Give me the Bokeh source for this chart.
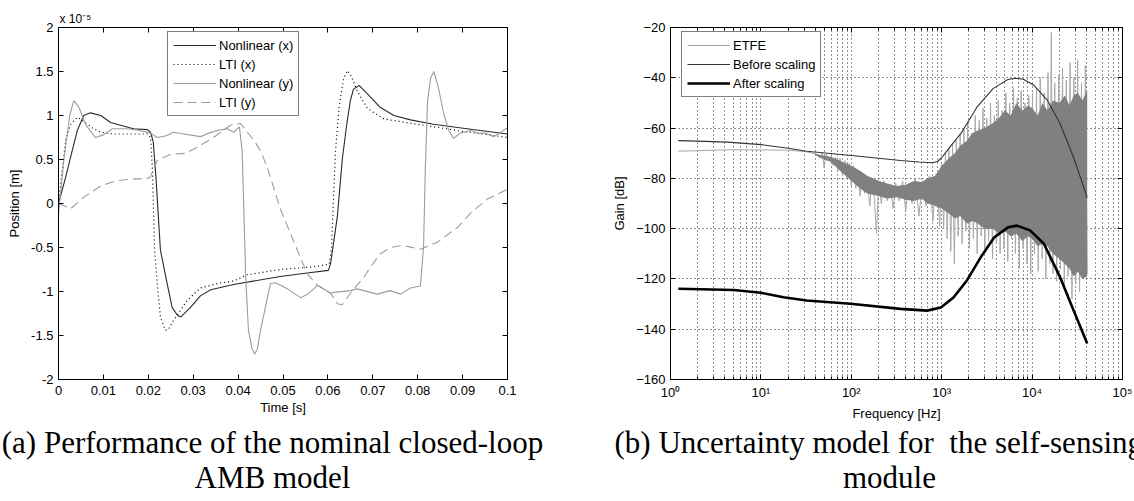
from bokeh.plotting import figure
from bokeh.models import (FixedTicker, LinearAxis, LogAxis, Legend, LegendItem,
                          CustomJSTickFormatter)
from bokeh.layouts import row, column
from bokeh.core.properties import value
from bokeh.embed import file_html
from bokeh.resources import INLINE

SANS = "Liberation Sans"
SERIF = "Liberation Serif"

# ---------------- (a) time responses, position in units of 1e-5 m ----------------
nonlin_x_t = [0, 0.0016, 0.0027, 0.0042, 0.0056, 0.0071, 0.0094, 0.0116, 0.0138, 0.0167,
              0.0198, 0.0205, 0.0211, 0.0217, 0.0227, 0.0242, 0.0253, 0.0265, 0.0272, 0.0294,
              0.0316, 0.0339, 0.039, 0.0494, 0.0554, 0.0601, 0.0606, 0.0614, 0.0621, 0.0632,
              0.0642, 0.065, 0.0657, 0.067, 0.0695, 0.0717, 0.0747, 0.0784, 0.0835, 0.091, 0.1]
nonlin_x_v = [0.0, 0.3, 0.53, 0.83, 1.0, 1.03, 1.0, 0.92, 0.89, 0.85,
              0.84, 0.81, 0.7, 0.3, -0.53, -0.91, -1.18, -1.27, -1.29, -1.18,
              -1.05, -0.98, -0.92, -0.83, -0.79, -0.76, -0.68, -0.4, -0.15, 0.5,
              0.9, 1.17, 1.3, 1.34, 1.21, 1.09, 1.0, 0.95, 0.9, 0.85, 0.79]

lti_x_t = [0, 0.0009, 0.0016, 0.0027, 0.0042, 0.006, 0.0075, 0.0094, 0.012, 0.016,
           0.02, 0.0205, 0.0209, 0.0214, 0.022, 0.0227, 0.0238, 0.0245, 0.0256, 0.0287,
           0.0316, 0.0354, 0.039, 0.042, 0.0494, 0.0568, 0.0603, 0.0608, 0.0612, 0.0617,
           0.0625, 0.0635, 0.0643, 0.0652, 0.0665, 0.0688, 0.0725, 0.08, 0.09, 0.1]
lti_x_v = [0.0, 0.41, 0.72, 0.9, 0.98, 0.92, 0.86, 0.81, 0.79, 0.79,
           0.79, 0.75, 0.41, -0.53, -0.91, -1.29, -1.44, -1.43, -1.33, -1.1,
           -0.96, -0.91, -0.88, -0.81, -0.75, -0.72, -0.69, -0.5, 0.0, 0.6,
           1.1, 1.42, 1.51, 1.45, 1.28, 1.08, 0.96, 0.9, 0.82, 0.75]

nonlin_y_t = [0, 0.0012, 0.0025, 0.0034, 0.0045, 0.006, 0.0082, 0.010, 0.012, 0.0154,
              0.018, 0.0205, 0.022, 0.024, 0.0256, 0.028, 0.0316, 0.0335, 0.0354, 0.0376,
              0.039, 0.0403, 0.0409, 0.0417, 0.0423, 0.0431, 0.0437, 0.0443, 0.045, 0.0462,
              0.0472, 0.0483, 0.051, 0.0539, 0.0555, 0.0577, 0.0606, 0.0614, 0.065, 0.0665,
              0.071, 0.0738, 0.0762, 0.0784, 0.0802, 0.0806, 0.0813, 0.0817, 0.0822, 0.0829,
              0.0836, 0.0846, 0.0858, 0.0869, 0.088, 0.0895, 0.0918, 0.0933, 0.095, 0.097,
              0.0985, 0.1]
nonlin_y_v = [-0.12, 0.5, 1.0, 1.17, 1.1, 0.9, 0.75, 0.78, 0.85, 0.85,
              0.83, 0.8, 0.75, 0.77, 0.81, 0.79, 0.76, 0.8, 0.83, 0.85,
              0.81, 0.87, 0.6, -0.84, -1.44, -1.65, -1.71, -1.65, -1.44, -1.15,
              -0.91, -0.9, -0.97, -1.07, -1.03, -0.93, -1.02, -1.01, -0.99, -0.97,
              -1.03, -0.99, -1.03, -0.96, -0.94, -0.94, -0.5, 0.41, 1.17, 1.43,
              1.5, 1.32, 1.02, 0.83, 0.74, 0.8, 0.83, 0.8, 0.8, 0.76,
              0.81, 0.86]

lti_y_t = [0, 0.0027, 0.0056, 0.0094, 0.013, 0.0168, 0.0195, 0.0205, 0.021, 0.022,
           0.025, 0.0283, 0.0316, 0.0345, 0.0383, 0.0405, 0.0435, 0.045, 0.0465, 0.0494,
           0.0532, 0.0554, 0.0577, 0.0606, 0.0621, 0.0632, 0.065, 0.068, 0.0695, 0.0717,
           0.074, 0.0762, 0.078, 0.0806, 0.0844, 0.0889, 0.0918, 0.0955, 0.1]
lti_y_v = [0.0, -0.06, 0.07, 0.2, 0.26, 0.28, 0.28, 0.3, 0.37, 0.49,
           0.56, 0.57, 0.66, 0.75, 0.89, 0.91, 0.72, 0.6, 0.41, -0.06,
           -0.53, -0.8, -0.93, -1.02, -1.14, -1.15, -1.02, -0.84, -0.72, -0.57,
           -0.5, -0.48, -0.49, -0.52, -0.44, -0.27, -0.11, 0.05, 0.16]

time_ticks = [0, 0.01, 0.02, 0.03, 0.04, 0.05, 0.06, 0.07, 0.08, 0.09, 0.1]
time_labels = ["0", "0.01", "0.02", "0.03", "0.04", "0.05", "0.06", "0.07", "0.08", "0.09", "0.1"]
pos_ticks = [-2, -1.5, -1, -0.5, 0, 0.5, 1, 1.5, 2]
pos_labels = ["-2", "-1.5", "-1", "-0.5", "0", "0.5", "1", "1.5", "2"]

# ---------------- (b) frequency responses ----------------
before_f = [1.22, 2, 4.3, 10, 20, 32, 100, 200, 350, 560, 780, 900, 1000, 1150, 1300, 1620,
            2000, 2450, 3700, 5400, 6600, 8000, 10500, 14800, 20400, 28800, 40700]
before_g = [-65, -65.2, -65.6, -66.6, -68.0, -69.2, -70.9, -72.0, -72.9, -73.5, -73.8, -73.3,
            -71.8, -69.0, -66.5, -62.3, -57.0, -51.7, -44.3, -40.7, -40.2, -40.6, -43, -49,
            -58.2, -71.7, -87.6]

after_f = [1.22, 5, 10, 17.8, 32, 98, 350, 690, 980, 1350, 1900, 2700, 3800, 5400, 6800,
           9500, 13500, 20400, 28800, 40700]
after_g = [-123.9, -124.4, -125.5, -127.3, -128.6, -129.9, -131.9, -132.6, -131.4, -127.4,
           -120.6, -111.4, -103.5, -99.5, -98.8, -100.7, -106, -119.3, -132.6, -145.7]

etfe_f = [1.22, 2, 3, 5, 10, 20, 30, 40,
          42, 45, 48, 50, 53, 56, 60, 63, 67, 71,
          75, 80, 85, 90, 95, 100, 106, 112, 118, 125,
          132, 140, 150, 160, 170, 180, 190, 200, 215, 230,
          250, 270, 290, 310, 340, 370, 400, 430, 470, 510,
          560, 610, 670, 730, 800, 870, 950, 1000,
          1050, 1100, 1150, 1200, 1260, 1320, 1380, 1450, 1520, 1600,
          1680, 1760, 1850, 1940, 2030, 2130, 2240, 2350, 2470, 2600,
          2730, 2860, 3000, 3150, 3300, 3470, 3650, 3830, 4020, 4220,
          4430, 4650, 4880, 5130, 5380, 5650, 5930, 6230, 6540, 6870,
          7210, 7570, 7950, 8350, 8770, 9200, 9660, 10100, 10600, 11200,
          11700, 12300, 12900, 13600, 14200, 15000, 15700, 16300, 17000, 17800,
          18700, 19700, 20600, 21700, 22700, 23900, 25000, 26300, 27600, 29000,
          30400, 31900, 33500, 35200, 37000, 38800, 40700]
etfe_g = [-69.2, -69, -68.8, -68.6, -68.7, -68.8, -69.3, -70.2,
          -70.5, -72, -69.8, -76, -70.2, -73, -71, -75, -71.5, -77,
          -72, -79, -73, -80, -74, -83, -75, -84, -77, -87,
          -78, -86, -80, -91, -80, -88, -102, -82, -90, -81,
          -89, -83, -92, -82, -89, -81, -93, -82, -90, -80,
          -95, -81, -91, -79, -97, -78, -99, -74,
          -100, -70, -104, -68, -109, -66, -114, -65, -103, -62,
          -106, -60, -101, -58, -108, -62, -104, -55, -110, -57,
          -103, -52, -109, -56, -105, -50, -112, -55, -106, -49,
          -110, -53, -108, -46, -113, -50, -104, -44, -110, -48,
          -116, -45, -108, -50, -114, -47, -118, -46, -110, -44,
          -117, -40, -112, -46, -120, -38, -114, -22, -118, -42,
          -121, -39, -116, -36, -124, -41, -119, -34, -128, -40,
          -122, -33, -125, -42, -120, -35, -118]

# dense core of the ETFE estimate (upper / lower edge)
etfe_core_f = [40, 50, 60, 75, 100, 125, 150, 200, 250, 320,
               400, 500, 600, 700, 850, 1000, 1200, 1400, 1600, 1900,
               2200, 2500, 3000, 3700, 4300, 5000, 5800, 6700, 7800, 9000,
               10000, 11500, 13000, 14800, 17000, 20000, 23000, 26000, 28800, 32000,
               36000, 40700]
etfe_core_hi = [-70.2, -71, -71.5, -73, -75, -77, -79, -81, -82, -83,
                -82.5, -81, -81.5, -80, -79, -75, -72, -70, -67, -65,
                -62, -61, -60, -58, -56, -53, -55, -50, -53, -51,
                -52, -55, -50, -53, -49, -50, -47, -51, -47, -46,
                -49, -45]
etfe_core_lo = [-70.8, -72.5, -73.5, -77, -81, -84, -86, -87, -88, -87.5,
                -88.5, -89, -88, -90, -91, -92, -94, -96, -95, -98,
                -97, -98, -100, -100, -102, -101, -103, -102, -105, -103,
                -104, -107, -106, -107, -110, -112, -114, -116, -119, -117,
                -120, -119]

freq_ticks = [1, 10, 100, 1000, 10000, 100000]
freq_labels = ["10\u2070", "10\u00b9", "10\u00b2", "10\u00b3", "10\u2074", "10\u2075"]
gain_ticks = [-160, -140, -120, -100, -80, -60, -40, -20]

# captions
caption_lines = ["(a) Performance of the nominal closed-loop", "AMB model",
                 "(b) Uncertainty model for \u00a0the self-sensing", "module"]

freq_minor = [m * 10 ** e for e in range(5) for m in range(2, 10)]


def style_axis(ax):
    ax.axis_line_color = "black"
    ax.axis_line_width = 1
    ax.major_tick_in = 5
    ax.major_tick_out = 0
    ax.major_tick_line_color = "black"
    ax.minor_tick_line_color = None
    ax.major_label_text_font = SANS
    ax.major_label_text_font_size = "13px"
    ax.major_label_text_color = "black"
    ax.axis_label_text_font = SANS
    ax.axis_label_text_font_size = "13px"
    ax.axis_label_text_font_style = "normal"
    ax.axis_label_text_color = "black"


def hide_labels(ax):
    ax.major_label_text_font_size = "0px"
    ax.major_label_standoff = 0
    ax.formatter = CustomJSTickFormatter(code="return ''")


BOTTOM = 43
TOP_H = 27 + 352 + BOTTOM

# ======================= figure (a) =======================
p1 = figure(frame_width=449, frame_height=352, min_border_left=58, min_border_right=53,
            min_border_top=27, min_border_bottom=BOTTOM,
            x_range=(0, 0.1), y_range=(-2, 2),
            title="x 10\u207b\u2075",
            output_backend="svg", toolbar_location=None)
p1.outline_line_color = "black"
p1.grid.visible = False
p1.title.align = "left"
p1.title.offset = 1
p1.title.standoff = 3
p1.title.text_font = SANS
p1.title.text_font_size = "12px"
p1.title.text_font_style = "normal"
p1.title.text_color = "black"

r_nx = p1.line(nonlin_x_t, nonlin_x_v, line_color="#2a2a2a", line_width=1.1)
r_lx = p1.line(lti_x_t, lti_x_v, line_color="black", line_width=1.2, line_dash="1 3")
r_ny = p1.line(nonlin_y_t, nonlin_y_v, line_color="#9c9c9c", line_width=1.1)
r_ly = p1.line(lti_y_t, lti_y_v, line_color="#9c9c9c", line_width=1.1, line_dash="9 5")

xt_a = FixedTicker(ticks=time_ticks, minor_ticks=[])
yt_a = FixedTicker(ticks=pos_ticks, minor_ticks=[])
for ax in p1.xaxis:
    style_axis(ax)
    ax.ticker = xt_a
    ax.major_label_overrides = dict(zip(time_ticks, time_labels))
    ax.axis_label = "Time [s]"
    ax.major_label_standoff = 6
    ax.axis_label_standoff = 2
for ax in p1.yaxis:
    style_axis(ax)
    ax.ticker = yt_a
    ax.major_label_overrides = dict(zip(pos_ticks, pos_labels))
    ax.axis_label = "Position [m]"
    ax.major_label_standoff = 5
    ax.axis_label_standoff = 6

top_a = LinearAxis(ticker=xt_a)
style_axis(top_a)
hide_labels(top_a)
p1.add_layout(top_a, "above")
right_a = LinearAxis(ticker=yt_a)
style_axis(right_a)
hide_labels(right_a)
p1.add_layout(right_a, "right")

leg1 = Legend(items=[LegendItem(label="Nonlinear (x)", renderers=[r_nx]),
                     LegendItem(label="LTI (x)", renderers=[r_lx]),
                     LegendItem(label="Nonlinear (y)", renderers=[r_ny]),
                     LegendItem(label="LTI (y)", renderers=[r_ly])],
              location=(109, 263))

# ======================= figure (b) =======================
p2 = figure(frame_width=452, frame_height=352, min_border_left=110, min_border_right=12,
            min_border_top=27, min_border_bottom=BOTTOM, x_axis_type="log",
            x_range=(1, 100000), y_range=(-160, -20), title=None,
            output_backend="svg", toolbar_location=None)
p2.outline_line_color = "black"

xt_b = FixedTicker(ticks=freq_ticks, minor_ticks=freq_minor)
yt_b = FixedTicker(ticks=gain_ticks, minor_ticks=[])

p2.xgrid.ticker = xt_b
p2.ygrid.ticker = yt_b
for g in [p2.xgrid[0], p2.ygrid[0]]:
    g.grid_line_color = "black"
    g.grid_line_dash = "1 3"
    g.grid_line_width = 1
    g.grid_line_alpha = 0.85
p2.xgrid.minor_grid_line_color = "black"
p2.xgrid.minor_grid_line_dash = "1 3"
p2.xgrid.minor_grid_line_alpha = 0.85

r_etfe = p2.line(etfe_f, etfe_g, line_color="#a8a8a8", line_width=1)
p2.varea(x=etfe_core_f, y1=etfe_core_lo, y2=etfe_core_hi, fill_color="#808080")
r_before = p2.line(before_f, before_g, line_color="#333333", line_width=1.1)
r_after = p2.line(after_f, after_g, line_color="black", line_width=2.6)

for ax in p2.xaxis:
    style_axis(ax)
    ax.ticker = xt_b
    ax.major_label_overrides = dict(zip(freq_ticks, freq_labels))
    ax.minor_tick_line_color = "black"
    ax.minor_tick_in = 3
    ax.minor_tick_out = 0
    ax.axis_label = "Frequency [Hz]"
    ax.major_label_standoff = 5
    ax.axis_label_standoff = 3
for ax in p2.yaxis:
    style_axis(ax)
    ax.ticker = yt_b
    ax.axis_label = "Gain [dB]"
    ax.major_label_standoff = 5
    ax.axis_label_standoff = 6

top_b = LogAxis(ticker=xt_b)
style_axis(top_b)
top_b.minor_tick_line_color = "black"
top_b.minor_tick_in = 3
top_b.minor_tick_out = 0
hide_labels(top_b)
p2.add_layout(top_b, "above")
right_b = LinearAxis(ticker=yt_b)
style_axis(right_b)
hide_labels(right_b)
p2.add_layout(right_b, "right")

leg2 = Legend(items=[LegendItem(label="ETFE", renderers=[r_etfe]),
                     LegendItem(label="Before scaling", renderers=[r_before]),
                     LegendItem(label="After scaling", renderers=[r_after])],
              location=(11, 282))

for lg in [leg1, leg2]:
    lg.border_line_color = "black"
    lg.border_line_width = 1
    lg.background_fill_color = "white"
    lg.background_fill_alpha = 1
    lg.label_text_font = SANS
    lg.label_text_font_size = "13px"
    lg.label_text_color = "black"
    lg.glyph_width = 43
    lg.glyph_height = 16
    lg.label_height = 16
    lg.label_standoff = 3
    lg.spacing = 3
    lg.padding = 5
    lg.margin = 0
p1.add_layout(leg1)
p2.add_layout(leg2)

# ======================= captions strip =======================
CAP_H = 501 - TOP_H
cap = figure(width=1134, height=CAP_H, x_range=(0, 1134), y_range=(CAP_H, 0),
             min_border=0, title=None, output_backend="svg", toolbar_location=None)
cap.axis.visible = False
cap.grid.visible = False
cap.outline_line_color = None
cap_x = [272, 272, 614, 889]
cap_y = [19, 54, 19, 54]
cap_align = ["center", "center", "left", "center"]
cap.text(x=cap_x, y=cap_y, text=caption_lines, text_align=cap_align,
         text_baseline="alphabetic", text_font=value(SERIF), text_font_size="31px",
         text_color="black")

layout = column(row(p1, p2), cap)
open("out.html", "w").write(file_html(layout, INLINE))
